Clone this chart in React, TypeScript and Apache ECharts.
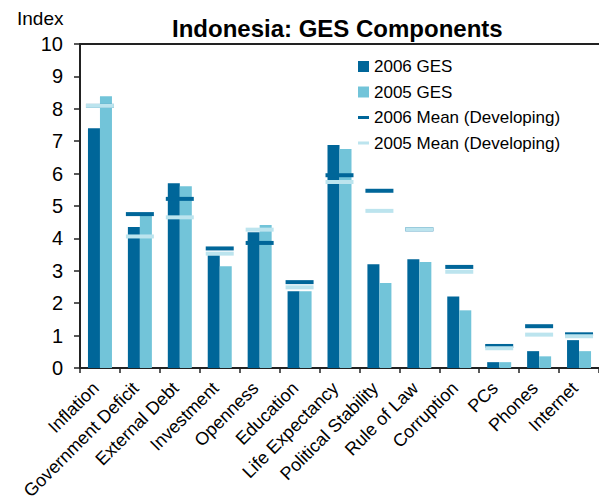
import React, { useEffect, useRef } from "react";
import * as echarts from "echarts";

const categories = [
  "Inflation",
  "Government Deficit",
  "External Debt",
  "Investment",
  "Openness",
  "Education",
  "Life Expectancy",
  "Political Stability",
  "Rule of Law",
  "Corruption",
  "PCs",
  "Phones",
  "Internet",
];
const ges2006 = [7.4, 4.35, 5.7, 3.48, 4.19, 2.37, 6.88, 3.2, 3.36, 2.21, 0.18, 0.52, 0.86];
const ges2005 = [8.39, 4.72, 5.61, 3.14, 4.41, 2.37, 6.76, 2.62, 3.27, 1.78, 0.18, 0.36, 0.52];
const mean2006 = [8.09, 4.75, 5.22, 3.69, 3.86, 2.65, 5.95, 5.47, 4.28, 3.12, 0.68, 1.29, 1.04];
const mean2005 = [8.09, 4.06, 4.65, 3.53, 4.27, 2.49, 5.74, 4.85, 4.28, 2.97, 0.61, 1.03, 0.98];
const yTicks = [0, 10, 1];

const DARK = "#006699";
const LIGHT = "#72c4d9";
const MEAN05 = "#bce4ee";
const FONT = "'Liberation Sans', Arial, sans-serif";
const lineIcon = "path://M0,0L0.01,0L0,0.01ZM0,4H11V7H0ZM11,11L10.99,11L11,10.99Z";

export default function App() {
  const ref = useRef<HTMLDivElement>(null);
  useEffect(() => {
    if (!ref.current) return;
    const chart = echarts.init(ref.current, undefined, { renderer: "svg" });
    chart.setOption({
      animation: false,
      textStyle: { fontFamily: FONT, color: "#000" },
      title: [
        {
          text: "Indonesia: GES Components",
          left: 167,
          top: 11,
          textStyle: { fontFamily: FONT, fontSize: 24, fontWeight: "bold", color: "#000" },
        },
        {
          text: "Index",
          left: 12,
          top: 4,
          textStyle: { fontFamily: FONT, fontSize: 19, fontWeight: "normal", color: "#000" },
        },
      ],
      legend: {
        orient: "vertical",
        left: 353,
        top: 53,
        itemWidth: 11,
        itemHeight: 11,
        itemGap: 8.5,
        textStyle: { fontFamily: FONT, fontSize: 17, color: "#000" },
        data: [
          { name: "2006 GES", icon: "rect" },
          { name: "2005 GES", icon: "rect" },
          { name: "2006 Mean (Developing)", icon: lineIcon },
          { name: "2005 Mean (Developing)", icon: lineIcon },
        ],
      },
      grid: { left: 80, right: 0, top: 44, bottom: 134, containLabel: false, outerBoundsMode: "none" },
      xAxis: [
        {
          type: "category",
          data: categories,
          axisLine: { lineStyle: { color: "#222", width: 2 } },
          axisTick: { show: true, length: 5, lineStyle: { color: "#222", width: 1.5 } },
          axisLabel: {
            interval: 0,
            rotate: 45,
            fontSize: 18,
            color: "#000",
            fontFamily: FONT,
            margin: 13,
            padding: [0, 6, 0, 0],
          },
        },
        {
          type: "category",
          data: categories,
          position: "top",
          axisLine: { show: true, lineStyle: { color: "#222", width: 2 } },
          axisTick: { show: false },
          axisLabel: { show: false },
        },
      ],
      yAxis: {
        type: "value",
        min: yTicks[0],
        max: yTicks[1],
        interval: yTicks[2],
        splitLine: { show: false },
        axisLine: { show: true, lineStyle: { color: "#222", width: 2 } },
        axisTick: { show: true, length: 6, lineStyle: { color: "#222", width: 1.5 } },
        axisLabel: { fontSize: 20, color: "#000", fontFamily: FONT, margin: 17 },
      },
      series: [
        {
          name: "2006 GES",
          type: "bar",
          data: ges2006,
          barWidth: 12,
          barGap: "0%",
          itemStyle: { color: DARK },
        },
        {
          name: "2005 GES",
          type: "bar",
          data: ges2005,
          barWidth: 12,
          barGap: "0%",
          itemStyle: { color: LIGHT },
        },
        {
          name: "2006 Mean (Developing)",
          type: "scatter",
          data: mean2006,
          symbol: "rect",
          symbolSize: [28, 4],
          itemStyle: { color: DARK, opacity: 1 },
          z: 5,
        },
        {
          name: "2005 Mean (Developing)",
          type: "scatter",
          data: mean2005,
          symbol: "rect",
          symbolSize: [28, 4],
          itemStyle: { color: MEAN05, opacity: 1 },
          z: 6,
        },
      ],
    });
    return () => chart.dispose();
  }, []);
  return (
    <div
      ref={ref}
      style={{ position: "absolute", left: 0, top: 0, width: 599, height: 502 }}
    />
  );
}
